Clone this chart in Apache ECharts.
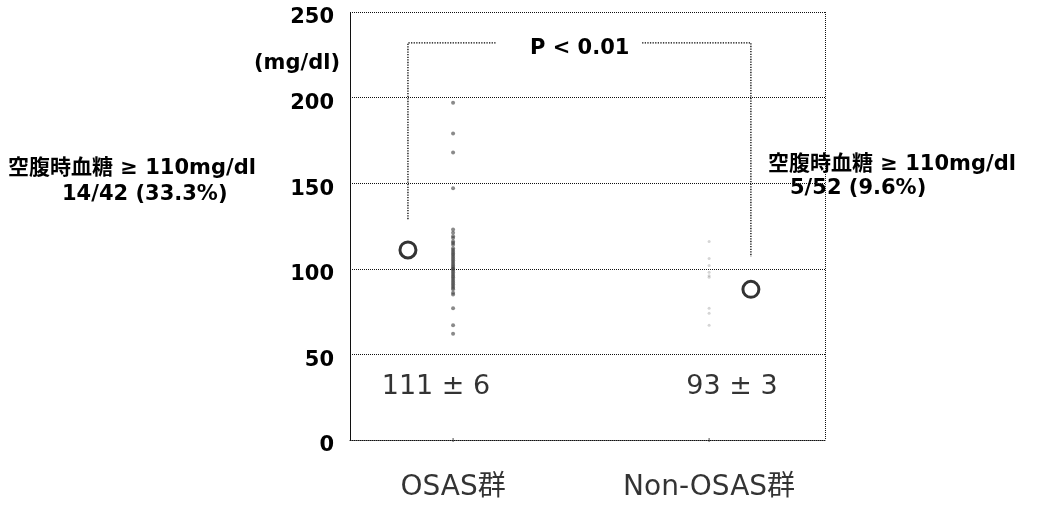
<!DOCTYPE html>
<html><head><meta charset="utf-8">
<script src="https://cdn.jsdelivr.net/npm/echarts@6/dist/echarts.min.js"></script>
<style>html,body{margin:0;padding:0;background:#fff}#c{width:1042px;height:513px}</style>
</head><body><div id="c"></div>
<script>
// ---- data ----
const categories = ['OSAS群', 'Non-OSAS群'];
const groupX = [21.7, 75.6];          // position of each group's individual points on hidden x scale (0-100)
const meanX = [12.2, 84.4];           // position of mean circles
const means = [111, 88];               // plotted mean circle heights
const meanText = ['111 ± 6', '93 ± 3'];
const osasValues = [197, 179, 168, 147, 123, 121, 119, 118, 116, 115, 114, 112, 111, 110, 109, 108, 107, 106, 105, 104, 103, 102, 101, 100, 100, 99, 98, 97, 96, 95, 94, 93, 92, 91, 90, 89, 88, 86, 85, 77, 67, 62];
const nonOsasValues = [116, 106, 102, 98, 96, 95, 77, 74, 67];
const yTicks = [0, 50, 100, 150, 200, 250];
const bracketLeft = [[12.2, 129], [12.2, 232], [30.9, 232]];
const bracketRight = [[61.5, 232], [84.4, 232], [84.4, 107]];
const pText = 'P < 0.01';
const leftNote = ['空腹時血糖 ≥ 110mg/dl', '14/42 (33.3%)'];
const rightNote = ['空腹時血糖 ≥ 110mg/dl', '5/52 (9.6%)'];
const yUnit = '(mg/dl)';

const FONT = "'DejaVu Sans', 'Noto Sans CJK JP', sans-serif";
const dotted = { type: 'dotted', color: '#111', width: 1 };

const chart = echarts.init(document.getElementById('c'), null, { renderer: 'canvas' });
chart.setOption({
  animation: false,
  backgroundColor: '#fff',
  textStyle: { fontFamily: FONT },
  grid: { left: 350, right: 217, top: 12, bottom: 73 },
  xAxis: {
    type: 'value', min: 0, max: 100, interval: 100,
    axisLine: { show: true, lineStyle: dotted },
    axisTick: { show: false },
    axisLabel: { show: false },
    splitLine: { show: true, lineStyle: dotted }
  },
  yAxis: {
    type: 'value', min: yTicks[0], max: yTicks[yTicks.length - 1], interval: 50,
    axisLine: { show: true, lineStyle: dotted },
    axisTick: { show: false },
    axisLabel: {
      margin: 16, formatter: '{a|{value}}',
      rich: { a: { color: '#000', fontSize: 21, fontWeight: 'bold', fontFamily: FONT, padding: [12, 0, 0, 0] } }
    },
    splitLine: { show: true, lineStyle: dotted }
  },
  series: [
    {
      type: 'scatter', symbol: 'circle', symbolSize: 4,
      itemStyle: { color: 'rgba(60,60,60,0.75)' },
      data: osasValues.map(v => [groupX[0], v])
    },
    {
      type: 'scatter', symbol: 'circle', symbolSize: 3,
      itemStyle: { color: 'rgba(150,150,150,0.5)' },
      data: nonOsasValues.map(v => [groupX[1], v])
    },
    {
      type: 'line', symbol: 'none', lineStyle: { type: 'dotted', color: '#000', width: 1.3 },
      data: bracketLeft
    },
    {
      type: 'line', symbol: 'none', lineStyle: { type: 'dotted', color: '#000', width: 1.3 },
      data: bracketRight
    },
    {
      type: 'scatter', symbol: 'circle', symbolSize: 16,
      itemStyle: { color: '#fff', borderColor: '#000', borderWidth: 3 },
      data: means.map((v, i) => [meanX[i], v]), z: 5
    },
    {
      // category labels below the axis, placed on the group positions
      type: 'scatter', symbol: 'rect', symbolSize: [1, 4], silent: true,
      itemStyle: { color: '#222' },
      label: { show: true, position: 'bottom', distance: 32, color: '#000', fontSize: 28, fontFamily: FONT,
               formatter: p => categories[p.dataIndex] },
      data: groupX.map(x => [x, 0]), clip: false
    },
    {
      type: 'scatter', symbolSize: 0, silent: true,
      label: { show: true, position: 'inside', color: '#000', fontSize: 27, fontFamily: FONT,
               formatter: p => meanText[p.dataIndex] },
      data: [[18.1, 31], [80.4, 31]]
    }
  ],
  graphic: [
    { type: 'text', left: 530, top: 38, style: { text: pText, font: 'bold 21px ' + FONT, fill: '#000' } },
    { type: 'text', left: 254, top: 53, style: { text: yUnit, font: 'bold 21px ' + FONT, fill: '#000' } },
    { type: 'text', left: 8, top: 158, style: { text: leftNote[0], font: 'bold 21px ' + FONT, fill: '#000' } },
    { type: 'text', left: 62, top: 184, style: { text: leftNote[1], font: 'bold 21px ' + FONT, fill: '#000' } },
    { type: 'text', left: 768, top: 154, style: { text: rightNote[0], font: 'bold 21px ' + FONT, fill: '#000' } },
    { type: 'text', left: 790, top: 178, style: { text: rightNote[1], font: 'bold 21px ' + FONT, fill: '#000' } }
  ]
});
</script></body></html>
